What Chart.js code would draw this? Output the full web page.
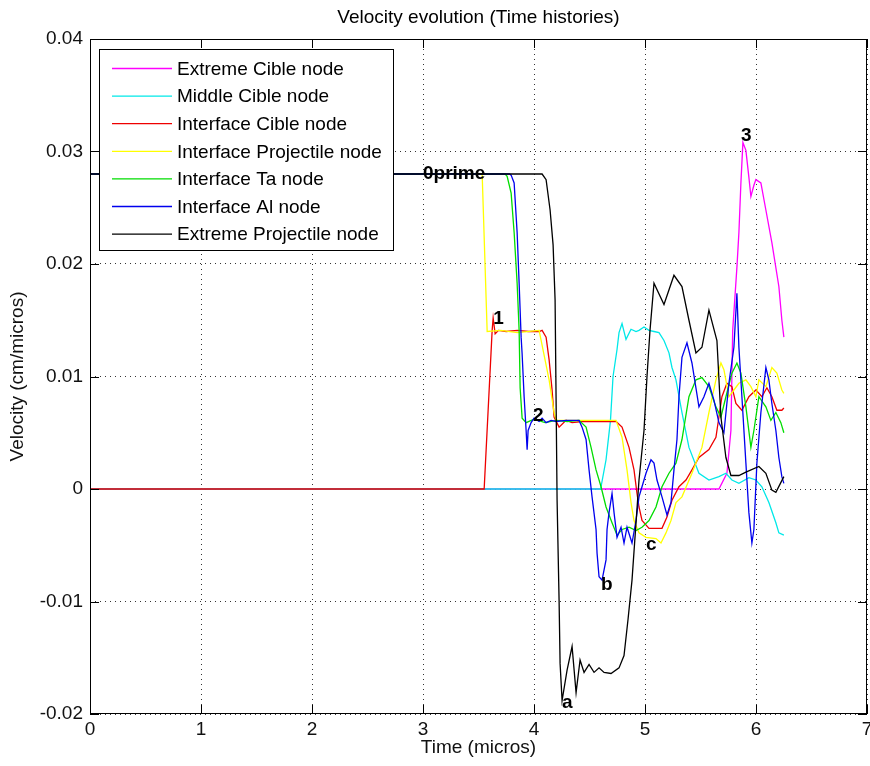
<!DOCTYPE html>
<html lang="en">
<head>
<meta charset="UTF-8">
<title>Velocity evolution (Time histories)</title>
<script src="https://cdn.jsdelivr.net/npm/chart.js"></script>
<style>
  body { margin: 0; background: #fff; }
  #wrap { width: 870px; height: 766px; }
</style>
</head>
<body>
<div id="wrap"><canvas id="velocityChart" width="870" height="766"></canvas></div>
<script>
// [time (micros), velocity (cm/micros)] for every node, in plotting order
const extremeCible = [
  [0, 0], [5.666, 0], [5.738, 0.0014], [5.774, 0.0052], [5.79, 0.0141], [5.828, 0.0197],
  [5.846, 0.0228], [5.864, 0.0272], [5.882, 0.0308], [5.909, 0.0301], [5.936, 0.0277],
  [5.954, 0.0260], [5.981, 0.0270], [5.999, 0.0275], [6.044, 0.0272], [6.089, 0.0248],
  [6.143, 0.0219], [6.206, 0.0180], [6.233, 0.0150], [6.251, 0.0135]
];
const middleCible = [
  [0, 0], [4.60, 0], [4.649, 0.0026], [4.689, 0.0061], [4.712, 0.0100], [4.748, 0.0124],
  [4.766, 0.0139], [4.793, 0.0147], [4.829, 0.0133], [4.874, 0.0142], [4.919, 0.0140],
  [4.946, 0.0141], [4.991, 0.0144], [5.036, 0.0141], [5.081, 0.0140], [5.126, 0.0139],
  [5.171, 0.0132], [5.216, 0.0121], [5.243, 0.0108], [5.279, 0.0097], [5.333, 0.0068],
  [5.396, 0.0037], [5.486, 0.0014], [5.576, 0.0008], [5.666, 0.0011], [5.729, 0.0014],
  [5.783, 0.0008], [5.846, 0.0005], [5.936, 0.0010], [5.999, 0.0008], [6.053, 0.0002],
  [6.116, -0.0012], [6.179, -0.0030], [6.206, -0.0039], [6.251, -0.0041]
];
const interfaceCible = [
  [0, 0], [3.551, 0], [3.623, 0.0141], [3.632, 0.0152], [3.65, 0.0138], [3.68, 0.0141],
  [3.75, 0.0140], [3.85, 0.0141], [3.95, 0.0140], [4.046, 0.0140], [4.073, 0.0141],
  [4.109, 0.0135], [4.136, 0.0115], [4.163, 0.0088], [4.181, 0.0064], [4.226, 0.0055],
  [4.289, 0.0061], [4.343, 0.0059], [4.433, 0.0060], [4.55, 0.0060], [4.739, 0.0060],
  [4.793, 0.0055], [4.856, 0.0037], [4.901, 0.0017], [4.928, -0.0004], [4.946, -0.0016],
  [4.973, -0.0028], [5.036, -0.0035], [5.153, -0.0035], [5.198, -0.0025], [5.243, -0.0010],
  [5.306, 0.0002], [5.369, 0.0008], [5.423, 0.0017], [5.486, 0.0028], [5.576, 0.0035],
  [5.639, 0.0046], [5.666, 0.0064], [5.693, 0.0082], [5.738, 0.0094], [5.783, 0.0091],
  [5.819, 0.0076], [5.873, 0.0070], [5.936, 0.0082], [5.999, 0.0088], [6.053, 0.0082],
  [6.098, 0.0090], [6.143, 0.0082], [6.188, 0.0070], [6.233, 0.0070], [6.251, 0.0072]
];
const interfaceProjectile = [
  [0, 0.028], [3.533, 0.028], [3.578, 0.0140], [3.70, 0.0141], [3.85, 0.0139], [4.046, 0.0141],
  [4.136, 0.0097], [4.181, 0.0068], [4.20, 0.0061], [4.40, 0.0061], [4.739, 0.0061],
  [4.793, 0.0046], [4.838, 0.0017], [4.874, -0.0012], [4.901, -0.0028], [4.946, -0.0039],
  [5.009, -0.0043], [5.099, -0.0044], [5.144, -0.0048], [5.189, -0.0039], [5.234, -0.0028],
  [5.279, -0.0012], [5.333, -0.0007], [5.423, 0.0014], [5.513, 0.0037], [5.576, 0.0068],
  [5.639, 0.0097], [5.684, 0.0112], [5.711, 0.0106], [5.756, 0.0082], [5.801, 0.0088],
  [5.846, 0.0094], [5.909, 0.0097], [5.954, 0.0091], [5.999, 0.0082], [6.026, 0.0097],
  [6.089, 0.0091], [6.143, 0.0108], [6.188, 0.0103], [6.233, 0.0088], [6.251, 0.0085]
];
const interfaceTa = [
  [0, 0.028], [3.74, 0.028], [3.758, 0.0278], [3.794, 0.0263], [3.821, 0.0228], [3.848, 0.0183],
  [3.866, 0.0141], [3.875, 0.0090], [3.893, 0.0063], [3.929, 0.0059], [4.0, 0.0062],
  [4.1, 0.0059], [4.2, 0.0061], [4.3, 0.0060], [4.406, 0.0061], [4.469, 0.0055],
  [4.514, 0.0037], [4.559, 0.0017], [4.604, 0.0002], [4.649, -0.0016], [4.703, -0.0030],
  [4.748, -0.0041], [4.793, -0.0036], [4.856, -0.0034], [4.919, -0.0037], [4.973, -0.0034],
  [5.036, -0.0028], [5.099, -0.0016], [5.153, 0.0002], [5.216, 0.0014], [5.279, 0.0023],
  [5.333, 0.0044], [5.396, 0.0082], [5.459, 0.0097], [5.513, 0.0099], [5.576, 0.0091],
  [5.639, 0.0073], [5.684, 0.0064], [5.729, 0.0082], [5.783, 0.0103], [5.828, 0.0112],
  [5.864, 0.0103], [5.909, 0.0073], [5.954, 0.0037], [5.981, 0.0052], [6.026, 0.0082],
  [6.089, 0.0073], [6.134, 0.0061], [6.179, 0.0068], [6.224, 0.0059], [6.251, 0.0050]
];
const interfaceAl = [
  [0, 0.028], [3.78, 0.028], [3.794, 0.0279], [3.821, 0.0272], [3.848, 0.0228], [3.866, 0.0183],
  [3.884, 0.0135], [3.893, 0.0120], [3.911, 0.0082], [3.929, 0.0052], [3.938, 0.0035],
  [3.947, 0.0052], [3.974, 0.0059], [4.001, 0.0063], [4.046, 0.0060], [4.073, 0.0063],
  [4.109, 0.0059], [4.154, 0.0061], [4.199, 0.0060], [4.289, 0.0061], [4.406, 0.0061],
  [4.433, 0.0055], [4.469, 0.0044], [4.496, 0.0017], [4.523, -0.0007], [4.559, -0.0036],
  [4.568, -0.0057], [4.586, -0.0078], [4.613, -0.0081], [4.649, -0.0063], [4.658, -0.0036],
  [4.676, -0.0021], [4.703, -0.0004], [4.721, -0.0021], [4.748, -0.0043], [4.784, -0.0034],
  [4.811, -0.0048], [4.838, -0.0034], [4.883, -0.0048], [4.919, -0.0028], [4.946, -0.0007],
  [4.973, 0.0002], [5.009, 0.0014], [5.054, 0.0026], [5.081, 0.0023], [5.108, 0.0008],
  [5.153, -0.0007], [5.198, -0.0023], [5.234, -0.0012], [5.261, 0.0017], [5.288, 0.0044],
  [5.306, 0.0082], [5.333, 0.0117], [5.378, 0.0130], [5.423, 0.0112], [5.486, 0.0073],
  [5.531, 0.0082], [5.576, 0.0094], [5.621, 0.0079], [5.666, 0.0059], [5.711, 0.0050],
  [5.756, 0.0094], [5.801, 0.0126], [5.828, 0.0174], [5.846, 0.0126], [5.873, 0.0082],
  [5.909, 0.0023], [5.936, -0.0021], [5.963, -0.0048], [5.981, -0.0036], [6.008, 0.0023],
  [6.044, 0.0068], [6.089, 0.0108], [6.116, 0.0097], [6.143, 0.0076], [6.179, 0.0052],
  [6.206, 0.0028], [6.233, 0.0011], [6.251, 0.0005]
];
const extremeProjectile = [
  [0, 0.028], [4.073, 0.028], [4.109, 0.0275], [4.145, 0.0248], [4.172, 0.0217], [4.19, 0.0168],
  [4.199, 0.0079], [4.208, -0.0010], [4.226, -0.0099], [4.235, -0.0155], [4.253, -0.0188],
  [4.298, -0.0161], [4.343, -0.0140], [4.379, -0.0181], [4.415, -0.0152], [4.451, -0.0163],
  [4.496, -0.0156], [4.541, -0.0163], [4.586, -0.0159], [4.631, -0.0163], [4.694, -0.0164],
  [4.766, -0.0159], [4.811, -0.0148], [4.847, -0.0116], [4.883, -0.0081], [4.946, 0.0008],
  [4.991, 0.0052], [5.018, 0.0100], [5.045, 0.0141], [5.081, 0.0183], [5.171, 0.0164],
  [5.261, 0.0190], [5.333, 0.0180], [5.396, 0.0150], [5.459, 0.0121], [5.513, 0.0126],
  [5.576, 0.0159], [5.648, 0.0132], [5.684, 0.0064], [5.729, 0.0028], [5.774, 0.0012],
  [5.846, 0.0012], [5.909, 0.0015], [6.026, 0.0020], [6.089, 0.0014], [6.143, -0.0001],
  [6.179, -0.0003], [6.251, 0.0011]
];

const nodeNames = [
  'Extreme Cible node', 'Middle Cible node', 'Interface Cible node',
  'Interface Projectile node', 'Interface Ta node', 'Interface Al node',
  'Extreme Projectile node'
];
const nodeSeries = [
  extremeCible, middleCible, interfaceCible, interfaceProjectile,
  interfaceTa, interfaceAl, extremeProjectile
];

const xTicks = [0, 1, 2, 3, 4, 5, 6, 7];
const yTicks = [-0.02, -0.01, 0, 0.01, 0.02, 0.03, 0.04];

// labelled instants on the curves
const markers = [
  { t: 3.0, v: 0.028, text: '0prime' },
  { t: 3.632, v: 0.0151, text: '1' },
  { t: 3.99, v: 0.0065, text: '2' },
  { t: 4.253, v: -0.019, text: 'a' },
  { t: 4.604, v: -0.0085, text: 'b' },
  { t: 5.009, v: -0.005, text: 'c' },
  { t: 5.864, v: 0.0314, text: '3' }
];

const lineColors = ['#ff00ff', '#00e8e8', '#ee0000', '#ffff00', '#00dd00', '#0000ee', '#000000'];
const FONT = 'Liberation Sans, Arial, Helvetica, sans-serif';
const TICK_LEN = 9;

Chart.defaults.font.family = FONT;
Chart.defaults.font.size = 19;
Chart.defaults.color = '#000';

// matlab-like box, inner ticks, text marks and legend
const axesDecor = {
  id: 'axesDecor',
  afterDatasetsDraw(chart) {
    const { ctx, chartArea: a, scales: { x, y } } = chart;
    ctx.save();
    ctx.strokeStyle = '#000';
    ctx.lineWidth = 1;
    ctx.strokeRect(a.left + 0.5, a.top + 0.5, a.right - a.left - 1, a.bottom - a.top - 1);

    ctx.beginPath();
    x.ticks.forEach(tk => {
      const px = Math.round(x.getPixelForValue(tk.value)) + 0.5;
      ctx.moveTo(px, a.bottom); ctx.lineTo(px, a.bottom - TICK_LEN);
      ctx.moveTo(px, a.top); ctx.lineTo(px, a.top + TICK_LEN);
    });
    y.ticks.forEach(tk => {
      const py = Math.round(y.getPixelForValue(tk.value)) + 0.5;
      ctx.moveTo(a.left, py); ctx.lineTo(a.left + TICK_LEN, py);
      ctx.moveTo(a.right, py); ctx.lineTo(a.right - TICK_LEN, py);
    });
    ctx.stroke();

    ctx.fillStyle = '#000';
    ctx.font = 'bold 19px ' + FONT;
    ctx.textAlign = 'left';
    ctx.textBaseline = 'middle';
    markers.forEach(m => {
      ctx.fillText(m.text, x.getPixelForValue(m.t), y.getPixelForValue(m.v));
    });

    // legend box
    const bx = a.left + 9, by = a.top + 10, bw = 294, bh = 201, row = 27.6;
    ctx.fillStyle = '#fff';
    ctx.fillRect(bx, by, bw, bh);
    ctx.strokeRect(bx + 0.5, by + 0.5, bw, bh);
    ctx.font = '19px ' + FONT;
    chart.data.datasets.forEach((ds, i) => {
      const cy = by + 19.5 + i * row;
      ctx.strokeStyle = ds.borderColor;
      ctx.lineWidth = 1.3;
      ctx.beginPath();
      ctx.moveTo(bx + 13, cy);
      ctx.lineTo(bx + 73, cy);
      ctx.stroke();
      ctx.fillStyle = '#000';
      ctx.fillText(ds.label, bx + 78, cy + 1);
    });
    ctx.restore();
  }
};

const datasets = nodeNames.map((name, i) => ({
  label: name,
  data: nodeSeries[i].map(p => ({ x: p[0], y: p[1] })),
  borderColor: lineColors[i],
  borderWidth: 1.3,
  pointRadius: 0,
  tension: 0,
  fill: false,
  // later nodes go on top
  order: nodeNames.length - 1 - i
}));

const gridStyle = { color: '#333', lineWidth: 1, drawTicks: false };

new Chart(document.getElementById('velocityChart'), {
  type: 'line',
  data: { datasets },
  options: {
    responsive: false,
    animation: false,
    devicePixelRatio: 1,
    layout: { padding: { left: 0, right: 3, top: 0, bottom: 0 } },
    plugins: {
      legend: { display: false },
      tooltip: { enabled: false },
      title: {
        display: true,
        fullSize: false,
        text: 'Velocity evolution (Time histories)',
        color: '#000',
        font: { size: 19, weight: 'normal' },
        padding: { top: 6.6, bottom: 9.6 }
      }
    },
    scales: {
      x: {
        type: 'linear',
        min: 0,
        max: 7,
        afterBuildTicks: s => { s.ticks = xTicks.map(value => ({ value })); },
        afterFit: s => { s.height = 52; s.paddingLeft = 0; s.paddingRight = 0; },
        ticks: { callback: v => String(v), padding: 4.6, maxRotation: 0, autoSkip: false, color: '#111' },
        grid: gridStyle,
        border: { display: false, dash: [1, 4] },
        title: { display: true, text: 'Time (micros)', color: '#111', padding: { top: 0, bottom: 6.6 } }
      },
      y: {
        type: 'linear',
        min: -0.02,
        max: 0.04,
        afterBuildTicks: s => { s.ticks = yTicks.map(value => ({ value })); },
        afterFit: s => { s.width = 90; s.paddingTop = 0; s.paddingBottom = 0; },
        ticks: { callback: v => String(v), padding: 7, autoSkip: false, color: '#111' },
        grid: gridStyle,
        border: { display: false, dash: [1, 4] },
        title: { display: true, text: 'Velocity (cm/micros)', color: '#111', padding: { top: 6.6, bottom: 0 } }
      }
    }
  },
  plugins: [axesDecor]
});
</script>
</body>
</html>
